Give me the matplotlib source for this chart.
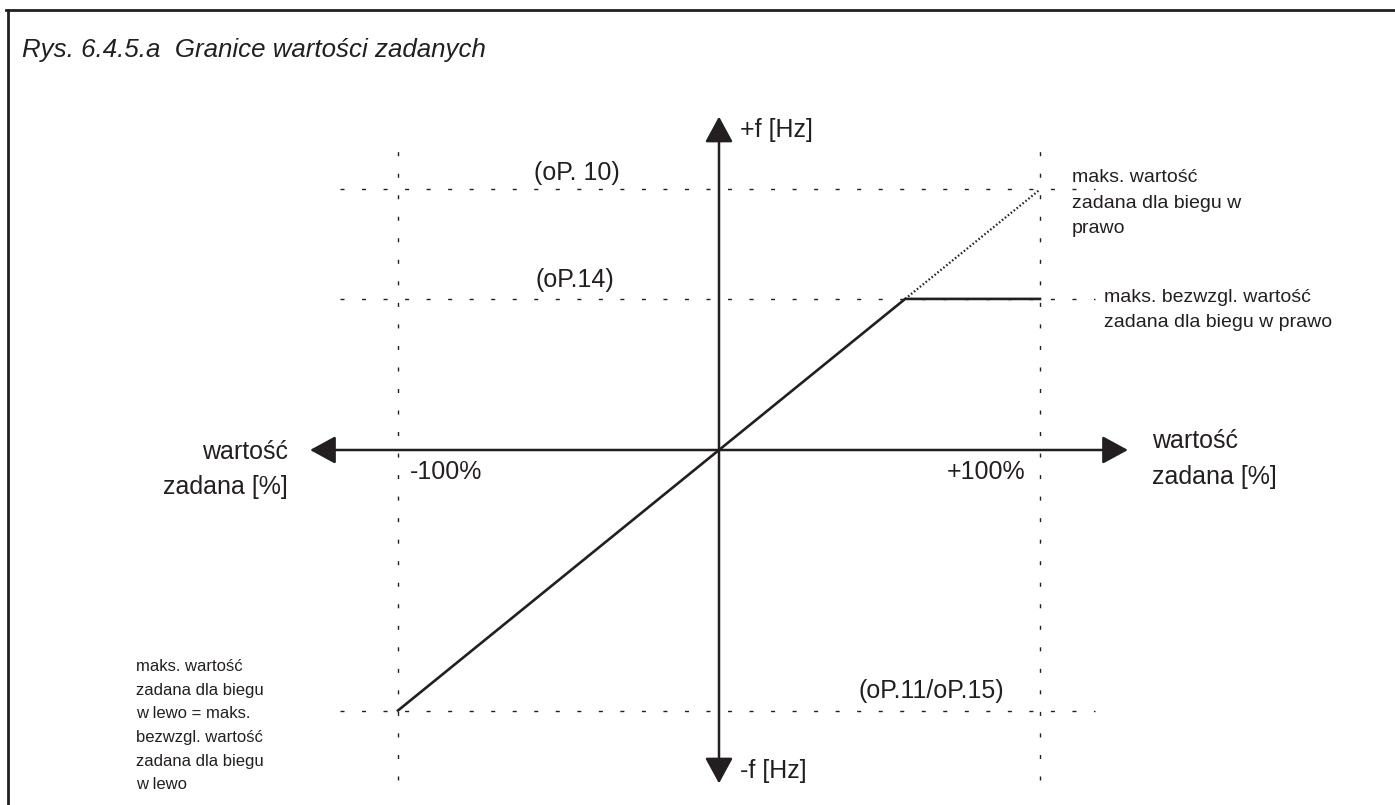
import matplotlib
matplotlib.use("Agg")
import matplotlib.pyplot as plt
from matplotlib import font_manager
from matplotlib.lines import Line2D

# values in % of max setpoint / max frequency
setpoint_limits = [-100, 100]          # -100% / +100%
f_max_right = 100                      # oP. 10
f_abs_right = 58                       # oP.14
f_max_left = -100                      # oP.11/oP.15
axis_reach_x = 127.4                   # how far the arrows go
axis_reach_y = 128

# characteristic: f follows the setpoint, clipped at oP.14 on the right
curve_x = [setpoint_limits[0], f_abs_right, setpoint_limits[1]]
curve_y = [f_max_left, f_abs_right, f_abs_right]
clipped_x = [f_abs_right, setpoint_limits[1]]
clipped_y = [f_abs_right, f_max_right]

ink = '#231f20'
plt.rcParams['font.family'] = ['Liberation Sans', 'DejaVu Sans']

try:
    font_manager.findfont('Liberation Sans Narrow', fallback_to_default=False)
    narrow = dict(family=['Liberation Sans Narrow', 'Liberation Sans'], fontsize=14,
                  linespacing=1.5)
except Exception:
    narrow = dict(family=['Liberation Sans', 'DejaVu Sans'], fontsize=12,
                  linespacing=1.72)

W, H = 1395, 805
fig = plt.figure(figsize=(W / 100, H / 100), dpi=100)
ax = fig.add_axes([0, 0, 1, 1])
# origin sits at pixel (719, 450); 100% -> 321 px across, 260.5 px up
sx, sy = 3.21, 2.605
ax.set_xlim(-719 / sx, (W - 719) / sx)
ax.set_ylim((450 - H) / sy, 450 / sy)
ax.axis('off')

# frame (top + left edge)
fig.add_artist(Line2D([6 / W, 1], [1 - 10.5 / H] * 2, color=ink, lw=2))
fig.add_artist(Line2D([7.5 / W] * 2, [0, 1 - 10.5 / H], color=ink, lw=2))

fig.text(22 / W, 1 - 50 / H, 'Rys. 6.4.5.a  Granice wartości zadanych',
         fontsize=18.6, style='italic', va='center', ha='left', color=ink)

# dotted guides
dash = (0, (2.9, 12.6))
for y in [f_max_right, f_abs_right, f_max_left]:
    ax.plot([-118, 117], [y, y], color=ink, lw=1.0, ls=dash)
for x in setpoint_limits:
    ax.plot([x, x], [-126.7, 115], color=ink, lw=1.0, ls=dash)

# axes with arrow heads
arrow = dict(arrowstyle='<|-|>,head_length=1.58,head_width=0.86', mutation_scale=10,
             lw=1.8, color=ink, shrinkA=0, shrinkB=0)
ax.annotate('', xy=(axis_reach_x, 0), xytext=(-axis_reach_x, 0), arrowprops=arrow)
ax.annotate('', xy=(0, axis_reach_y), xytext=(0, -axis_reach_y), arrowprops=arrow)

# characteristic
ax.plot(curve_x, curve_y, color=ink, lw=1.9, solid_joinstyle='miter')
ax.plot(clipped_x, clipped_y, color=ink, lw=1.6, ls=(0, (0.7, 1.0)))

big = dict(fontsize=18, color=ink)
small = dict(fontsize=14, color=ink, linespacing=1.62)
ax.text(6.5, 122.8, '+f [Hz]', va='center', ha='left', **big)
ax.text(6.5, -123.2, '-f [Hz]', va='center', ha='left', **big)
ax.text(-44.2, 106.3, '(oP. 10)', va='center', ha='center', **big)
ax.text(-44.9, 65.3, '(oP.14)', va='center', ha='center', **big)
ax.text(66, -92.5, '(oP.11/oP.15)', va='center', ha='center', **big)
ax.text(-96.3, -8.4, '-100%', va='center', ha='left', **big)
ax.text(95.3, -8.4, '+100%', va='center', ha='right', **big)
ax.text(-134.3, -7.5, 'wartość\nzadana [%]', va='center', ha='right',
        multialignment='right', linespacing=1.6, **big)
ax.text(134.9, -3.5, 'wartość\nzadana [%]', va='center', ha='left',
        linespacing=1.65, **big)
ax.text(110, 94.8, 'maks. wartość\nzadana dla biegu w\nprawo', va='center', ha='left',
        **small)
ax.text(119.9, 53.7, 'maks. bezwzgl. wartość\nzadana dla biegu w prawo', va='center',
        ha='left', **small)
ax.text(-181.6, -105.8, 'maks. wartość\nzadana dla biegu\nw lewo = maks.\n'
        'bezwzgl. wartość\nzadana dla biegu\nw lewo', va='center', ha='left',
        color=ink, **narrow)

fig.savefig('out.png', dpi=100)
